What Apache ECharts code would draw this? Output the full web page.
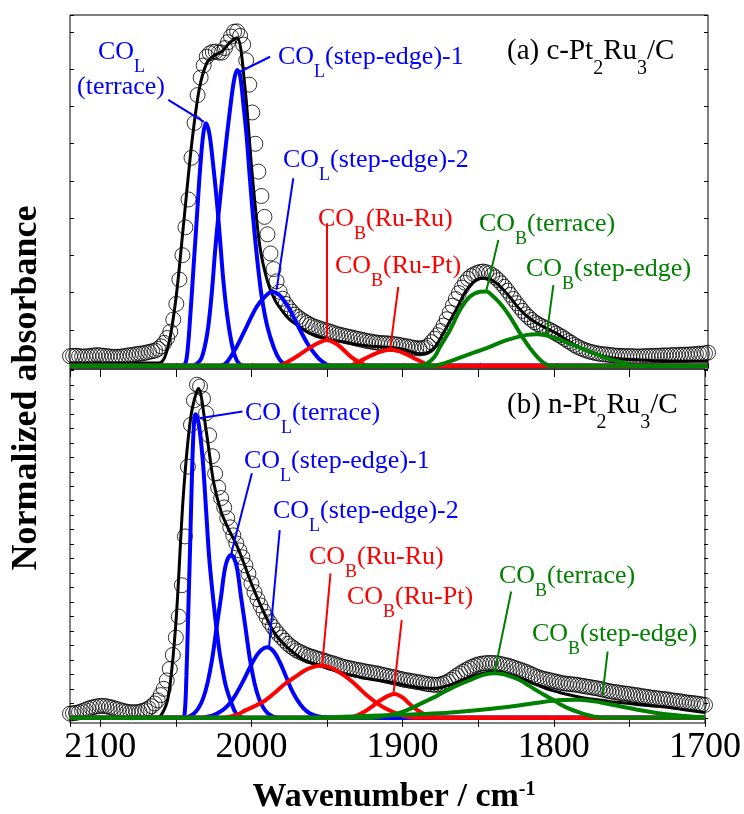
<!DOCTYPE html>
<html>
<head>
<meta charset="utf-8">
<script src="https://cdn.jsdelivr.net/npm/echarts@6/dist/echarts.min.js"></script>
<style>
html, body { margin: 0; padding: 0; background: #fff; }
#chart { width: 744px; height: 814px; }
</style>
</head>
<body>
<div id="chart"></div>
<script>
// measured spectra, wavenumber in cm-1
var wavenumbers = [
  2120,2118,2116,2114,2112,2110,2108,2106,2104,2102,
  2100,2098,2096,2094,2092,2090,2088,2086,2084,2082,
  2080,2078,2076,2074,2072,2070,2068,2066,2064,2062,
  2060,2058,2056,2054,2052,2050,2048,2046,2044,2042,
  2040,2038,2036,2034,2032,2030,2028,2026,2024,2022,
  2020,2018,2016,2014,2012,2010,2008,2006,2004,2002,
  2000,1998,1996,1994,1992,1990,1988,1986,1984,1982,
  1980,1978,1976,1974,1972,1970,1968,1966,1964,1962,
  1960,1958,1956,1954,1952,1950,1948,1946,1944,1942,
  1940,1938,1936,1934,1932,1930,1928,1926,1924,1922,
  1920,1918,1916,1914,1912,1910,1908,1906,1904,1902,
  1900,1898,1896,1894,1892,1890,1888,1886,1884,1882,
  1880,1878,1876,1874,1872,1870,1868,1866,1864,1862,
  1860,1858,1856,1854,1852,1850,1848,1846,1844,1842,
  1840,1838,1836,1834,1832,1830,1828,1826,1824,1822,
  1820,1818,1816,1814,1812,1810,1808,1806,1804,1802,
  1800,1798,1796,1794,1792,1790,1788,1786,1784,1782,
  1780,1778,1776,1774,1772,1770,1768,1766,1764,1762,
  1760,1758,1756,1754,1752,1750,1748,1746,1744,1742,
  1740,1738,1736,1734,1732,1730,1728,1726,1724,1722,
  1720,1718,1716,1714,1712,1710,1708,1706,1704,1702,
  1700
];
// (a) c-Pt2Ru3/C
var spectrumA = [
  0.020,0.021,0.021,0.020,0.019,0.019,0.020,0.021,0.022,0.023,
  0.022,0.021,0.020,0.019,0.018,0.018,0.018,0.019,0.020,0.022,
  0.023,0.024,0.026,0.027,0.028,0.030,0.032,0.034,0.036,0.041,
  0.048,0.058,0.072,0.090,0.125,0.170,0.240,0.310,0.390,0.470,
  0.590,0.690,0.770,0.820,0.855,0.880,0.890,0.894,0.895,0.892,
  0.892,0.905,0.922,0.938,0.952,0.953,0.940,0.915,0.870,0.800,
  0.720,0.630,0.550,0.480,0.420,0.370,0.315,0.270,0.235,0.205,
  0.185,0.170,0.158,0.148,0.139,0.132,0.126,0.120,0.115,0.110,
  0.106,0.103,0.100,0.097,0.094,0.092,0.089,0.086,0.083,0.081,
  0.079,0.077,0.075,0.073,0.071,0.069,0.067,0.065,0.063,0.062,
  0.060,0.059,0.058,0.057,0.057,0.056,0.055,0.054,0.053,0.051,
  0.049,0.048,0.046,0.044,0.043,0.042,0.043,0.045,0.050,0.060,
  0.070,0.080,0.092,0.108,0.126,0.145,0.165,0.184,0.201,0.217,
  0.231,0.242,0.250,0.255,0.259,0.262,0.263,0.261,0.258,0.253,
  0.246,0.238,0.229,0.219,0.208,0.196,0.184,0.172,0.161,0.150,
  0.140,0.132,0.124,0.117,0.112,0.107,0.103,0.099,0.095,0.090,
  0.085,0.080,0.075,0.069,0.063,0.058,0.052,0.047,0.043,0.039,
  0.036,0.033,0.031,0.029,0.027,0.026,0.025,0.024,0.023,0.022,
  0.021,0.021,0.020,0.020,0.020,0.020,0.019,0.019,0.019,0.020,
  0.020,0.020,0.021,0.021,0.021,0.022,0.022,0.022,0.023,0.023,
  0.023,0.024,0.024,0.024,0.025,0.025,0.026,0.027,0.027,0.028,
  0.030
];
// (b) n-Pt2Ru3/C
var spectrumB = [
  0.012,0.013,0.014,0.016,0.019,0.022,0.026,0.029,0.031,0.033,
  0.034,0.034,0.033,0.031,0.029,0.026,0.024,0.021,0.019,0.017,
  0.016,0.016,0.016,0.017,0.020,0.022,0.027,0.033,0.041,0.050,
  0.065,0.083,0.107,0.140,0.180,0.230,0.290,0.380,0.520,0.720,
  0.840,0.910,0.955,0.950,0.915,0.873,0.810,0.750,0.700,0.660,
  0.630,0.603,0.572,0.546,0.523,0.500,0.480,0.460,0.437,0.413,
  0.385,0.360,0.340,0.322,0.305,0.289,0.274,0.261,0.250,0.239,
  0.230,0.221,0.212,0.205,0.199,0.193,0.189,0.185,0.181,0.177,
  0.175,0.172,0.169,0.167,0.164,0.161,0.158,0.156,0.153,0.150,
  0.147,0.145,0.143,0.141,0.139,0.137,0.136,0.134,0.132,0.131,
  0.129,0.128,0.126,0.124,0.122,0.120,0.118,0.116,0.114,0.112,
  0.110,0.108,0.107,0.105,0.104,0.102,0.101,0.099,0.097,0.096,
  0.095,0.094,0.095,0.097,0.100,0.104,0.109,0.115,0.121,0.127,
  0.132,0.137,0.142,0.146,0.150,0.153,0.155,0.156,0.157,0.157,
  0.157,0.156,0.155,0.153,0.151,0.149,0.146,0.143,0.140,0.137,
  0.134,0.131,0.127,0.123,0.119,0.116,0.113,0.111,0.109,0.107,
  0.105,0.103,0.101,0.099,0.098,0.097,0.096,0.095,0.094,0.092,
  0.091,0.089,0.088,0.086,0.085,0.083,0.081,0.079,0.077,0.075,
  0.074,0.073,0.071,0.070,0.069,0.068,0.066,0.065,0.064,0.062,
  0.061,0.060,0.058,0.057,0.056,0.055,0.054,0.053,0.052,0.050,
  0.049,0.048,0.047,0.045,0.044,0.043,0.042,0.041,0.040,0.038,
  0.037
];

// fitted sum
var fitGrid = [
  2120,2115,2110,2105,2100,2095,2090,2085,2080,2075,
  2070,2065,2060,2055,2050,2045,2040,2035,2030,2025,
  2020,2015,2010,2005,2000,1995,1990,1985,1980,1975,
  1970,1965,1960,1955,1950,1945,1940,1935,1930,1925,
  1920,1915,1910,1905,1900,1895,1890,1885,1880,1875,
  1870,1865,1860,1855,1850,1845,1840,1835,1830,1825,
  1820,1815,1810,1805,1800,1795,1790,1785,1780,1775,
  1770,1765,1760,1755,1750,1745,1740,1735,1730,1725,
  1720,1715,1710,1705,1700
];
var fitA = [
  0,0,0,0,0,0,0,0,0,0,
  0,0,0.002,0.055,0.195,0.41,0.625,0.785,0.862,0.884,
  0.895,0.92,0.935,0.8,0.54,0.335,0.235,0.18,0.148,0.123,
  0.108,0.092,0.081,0.073,0.067,0.064,0.061,0.057,0.053,0.05,
  0.048,0.046,0.045,0.043,0.039,0.032,0.027,0.029,0.045,0.08,
  0.12,0.16,0.203,0.23,0.243,0.243,0.232,0.212,0.187,0.16,
  0.138,0.121,0.108,0.097,0.086,0.072,0.058,0.046,0.036,0.028,
  0.021,0.016,0.013,0.011,0.01,0.009,0.008,0.007,0.007,0.006,
  0.006,0.005,0.005,0.005,0.005
];
var fitB = [
  0,0,0,0,0,0,0,0,0,0,
  0,0,0.006,0.06,0.27,0.64,0.865,0.945,0.825,0.675,
  0.59,0.54,0.497,0.443,0.385,0.333,0.286,0.245,0.218,0.197,
  0.18,0.165,0.157,0.151,0.144,0.136,0.128,0.123,0.118,0.113,
  0.11,0.107,0.104,0.1,0.095,0.091,0.087,0.085,0.084,0.086,
  0.092,0.1,0.109,0.117,0.124,0.129,0.132,0.131,0.126,0.119,
  0.11,0.101,0.092,0.084,0.077,0.071,0.066,0.061,0.057,0.054,
  0.051,0.048,0.045,0.043,0.041,0.038,0.036,0.034,0.032,0.03,
  0.027,0.024,0.021,0.018,0.015
];

// fitted components, [wavenumber, absorbance]
var coLTerraceA = [[2120,-0.008],[2047,-0.008],[2044.5,-0.004],[2043,0.02],[2041,0.124],[2038.8,0.267],[2036.6,0.411],[2034.4,0.555],[2032.2,0.66],[2030.5,0.689],[2028.3,0.66],[2026.1,0.583],[2023.4,0.469],[2021.2,0.354],[2019.1,0.239],[2016.4,0.133],[2013.6,0.057],[2011.2,0.018],[2009,0],[2006,-0.008],[1700,-0.008]];
var coLStep1A = [[2120,-0.008],[2040,-0.008],[2036.6,-0.002],[2033.4,0.014],[2029.6,0.086],[2026.7,0.2],[2024.6,0.315],[2022.4,0.42],[2018,0.603],[2014.7,0.727],[2012,0.813],[2009.9,0.842],[2008.1,0.828],[2005.9,0.746],[2003.7,0.65],[2001.5,0.526],[1999.3,0.411],[1996.7,0.296],[1993.8,0.191],[1990.1,0.105],[1985.7,0.043],[1982,0.01],[1978,-0.005],[1975,-0.008],[1700,-0.008]];
var coLStep2A = [[2120,-0.008],[2021,-0.008],[2016.8,0.002],[2010.3,0.047],[2003.7,0.105],[1997.1,0.162],[1991.6,0.191],[1987,0.205],[1982,0.195],[1978,0.172],[1975.2,0.153],[1969.7,0.105],[1963.1,0.052],[1958,0.022],[1955,0.008],[1951,-0.004],[1947,-0.008],[1700,-0.008]];
var coBRuRuA = [[2120,-0.008],[1983,-0.008],[1979.6,-0.003],[1975,0.008],[1970,0.021],[1965,0.036],[1960,0.05],[1955,0.061],[1951,0.066],[1947,0.061],[1943,0.05],[1939,0.034],[1935,0.018],[1931,0.006],[1927,-0.003],[1923,-0.008],[1700,-0.008]];
var coBRuPtA = [[2120,-0.008],[1937,-0.008],[1933.5,-0.004],[1928,0.008],[1922,0.021],[1916,0.032],[1910,0.038],[1904,0.035],[1898,0.024],[1892,0.011],[1887.4,0.001],[1882,-0.008],[1700,-0.008]];
var coBTerraceA = [[2120,-0.008],[1890,-0.008],[1885.2,-0.002],[1880,0.018],[1876.4,0.047],[1869.8,0.095],[1863.2,0.153],[1856.7,0.191],[1850.1,0.205],[1846,0.206],[1843.5,0.2],[1836.9,0.172],[1830.3,0.133],[1823.8,0.086],[1817.2,0.043],[1812,0.016],[1808,0],[1804,-0.008],[1700,-0.008]];
var coBStepA = [[2120,-0.008],[1882,-0.008],[1872,0.002],[1858.8,0.023],[1845.7,0.043],[1832.5,0.066],[1819.3,0.081],[1812.8,0.083],[1806,0.079],[1799.6,0.071],[1788.7,0.052],[1777.7,0.033],[1766.7,0.014],[1755.7,0.001],[1748,-0.008],[1700,-0.008]];

var coLTerraceB = [[2120,0],[2046,0],[2044.3,0.006],[2043,0.12],[2042,0.27],[2040.5,0.5],[2039.3,0.7],[2038.3,0.82],[2037.1,0.87],[2035.8,0.86],[2034.4,0.83],[2032.2,0.739],[2030,0.596],[2027.8,0.452],[2024.5,0.309],[2021.3,0.194],[2019,0.135],[2016.8,0.089],[2013.5,0.045],[2010.3,0.013],[2007,0.002],[2004,0],[1700,0]];
var coLStep1B = [[2120,0],[2045,0],[2041,0.004],[2038,0.012],[2035,0.028],[2032,0.055],[2029,0.1],[2026,0.168],[2023,0.26],[2020,0.35],[2017,0.438],[2013.5,0.467],[2010,0.438],[2007,0.35],[2004,0.26],[2001,0.168],[1998,0.1],[1995,0.055],[1992,0.028],[1989,0.012],[1986,0.004],[1982,0],[1700,0]];
var coLStep2B = [[2120,0],[2033,0],[2029.5,0.003],[2025.5,0.007],[2021.5,0.015],[2017.5,0.027],[2013.5,0.046],[2009.5,0.073],[2005.5,0.105],[2001.5,0.14],[1997.5,0.172],[1993.5,0.194],[1989.5,0.202],[1985.5,0.191],[1981.5,0.162],[1977.5,0.122],[1973.5,0.081],[1969.5,0.05],[1965.5,0.027],[1961.5,0.013],[1957.5,0.006],[1953.5,0.002],[1949,0],[1700,0]];
var coBRuRuB = [[2120,0],[2020,0],[2010,0.008],[2003.7,0.022],[1997,0.035],[1990.5,0.051],[1984,0.074],[1977.3,0.099],[1970,0.12],[1964.2,0.137],[1959,0.146],[1954.3,0.149],[1949,0.146],[1944.4,0.137],[1939,0.122],[1933.5,0.104],[1928,0.082],[1922.5,0.06],[1917,0.042],[1911.5,0.027],[1905,0.014],[1898.3,0.004],[1892,0],[1700,0]];
var coBRuPtB = [[2120,0],[1937,0],[1930,0.007],[1925,0.018],[1920,0.033],[1915,0.049],[1910,0.062],[1905.5,0.068],[1900,0.058],[1895,0.038],[1890,0.021],[1885,0.009],[1880,0.002],[1875,0],[1700,0]];
var coBTerraceB = [[2120,0],[1922,0],[1912,0.005],[1902.8,0.013],[1896,0.024],[1889.6,0.037],[1883,0.051],[1876.4,0.065],[1870,0.08],[1863.2,0.094],[1856,0.107],[1850.1,0.118],[1845,0.125],[1839.1,0.128],[1833,0.125],[1828.2,0.118],[1822,0.107],[1817.2,0.094],[1812,0.08],[1806.2,0.065],[1800,0.05],[1795.2,0.037],[1790,0.026],[1784.3,0.017],[1778,0.008],[1773.3,0.003],[1766,0],[1700,0]];
var coBStepB = [[2120,0],[1965,0],[1930,0.004],[1900,0.009],[1872,0.014],[1850.1,0.022],[1828.2,0.032],[1806.2,0.046],[1795.2,0.051],[1784.3,0.052],[1773.3,0.047],[1762.3,0.038],[1744.8,0.023],[1727.2,0.011],[1709.7,0.004],[1700,0.002]];

var xTickLabels = [2100, 2000, 1900, 1800, 1700];

var SERIF = '"Liberation Serif", "Times New Roman", serif';
var BLUE = '#0000ff', RED = '#ff0000', GREEN = '#008000';

// leader lines: [from wavenumber, from value, to wavenumber, to value, colour]
var leadersA = [
  [2055.3, 0.756, 2031.8, 0.693, BLUE],
  [1988.3, 0.880, 2008.1, 0.837, BLUE],
  [1973.0, 0.531, 1984.0, 0.211, BLUE],
  [1951.0, 0.402, 1951.0, 0.066, RED],
  [1903.9, 0.219, 1909.3, 0.038, RED],
  [1838.0, 0.354, 1845.8, 0.210, GREEN],
  [1801.8, 0.224, 1806.2, 0.081, GREEN]
];
var leadersB = [
  [2005.9, 0.878, 2034.4, 0.859, BLUE],
  [1999.7, 0.701, 2013.6, 0.467, BLUE],
  [1981.3, 0.538, 1988.3, 0.204, BLUE],
  [1947.7, 0.414, 1953.2, 0.151, RED],
  [1900.6, 0.280, 1906.0, 0.070, RED],
  [1828.2, 0.362, 1839.1, 0.132, GREEN],
  [1764.4, 0.190, 1767.8, 0.065, GREEN]
];

// text labels: [left x, baseline y, rich text, colour, font size]
var labels = [
  [98, 63, '{m|CO}{s|L}', BLUE, 26],
  [77, 98, '{m|(terrace)}', BLUE, 26],
  [278, 68, '{m|CO}{s|L}{m|(step-edge)-1}', BLUE, 26],
  [283, 171, '{m|CO}{s|L}{m|(step-edge)-2}', BLUE, 26],
  [318, 230, '{m|CO}{s|B}{m|(Ru-Ru)}', RED, 26],
  [335, 277, '{m|CO}{s|B}{m|(Ru-Pt)}', RED, 26],
  [479, 235, '{m|CO}{s|B}{m|(terrace)}', GREEN, 26],
  [526, 280, '{m|CO}{s|B}{m|(step-edge)}', GREEN, 26],
  [507, 63, '{m|(a) c-Pt}{s|2}{m|Ru}{s|3}{m|/C}', '#000', 29],
  [245, 424, '{m|CO}{s|L}{m|(terrace)}', BLUE, 26],
  [244, 472, '{m|CO}{s|L}{m|(step-edge)-1}', BLUE, 26],
  [273, 522, '{m|CO}{s|L}{m|(step-edge)-2}', BLUE, 26],
  [309, 568, '{m|CO}{s|B}{m|(Ru-Ru)}', RED, 26],
  [347, 608, '{m|CO}{s|B}{m|(Ru-Pt)}', RED, 26],
  [499, 587, '{m|CO}{s|B}{m|(terrace)}', GREEN, 26],
  [532, 645, '{m|CO}{s|B}{m|(step-edge)}', GREEN, 26],
  [507, 417, '{m|(b) n-Pt}{s|2}{m|Ru}{s|3}{m|/C}', '#000', 29]
];

function zipSpectrum(xs, ys) {
  return xs.map(function (x, i) { return [x, ys[i]]; });
}

function leaderData(list) {
  return list.map(function (l) {
    return [{coord: [l[0], l[1]], lineStyle: {color: l[4]}}, {coord: [l[2], l[3]]}];
  });
}

function curve(pts, color, xi, yi) {
  return {
    type: 'line', xAxisIndex: xi, yAxisIndex: yi, data: pts,
    showSymbol: false, symbol: 'none', smooth: 0.35, z: 4,
    lineStyle: {color: color, width: 4}
  };
}

function panelSeries(spec, fit, comps, leaders, xi, yi) {
  var s = [];
  s.push({
    type: 'scatter', xAxisIndex: xi, yAxisIndex: yi,
    data: zipSpectrum(wavenumbers, spec),
    symbol: 'circle', symbolSize: 15, z: 2,
    itemStyle: {color: 'rgba(0,0,0,0)', borderColor: '#000', borderWidth: 1}
  });
  s.push({
    type: 'line', xAxisIndex: xi, yAxisIndex: yi,
    data: zipSpectrum(fitGrid, fit),
    showSymbol: false, symbol: 'none', smooth: 0.3, z: 3,
    lineStyle: {color: '#000', width: 3},
    markLine: {
      silent: true, symbol: ['none', 'none'], label: {show: false},
      lineStyle: {width: 2, type: 'solid'},
      data: leaderData(leaders)
    }
  });
  comps.forEach(function (c) { s.push(curve(c[0], c[1], xi, yi)); });
  return s;
}

// main text plus a subscript dropped about 12px below the baseline
function richStyle(color, size) {
  var sub = Math.round(size * 0.69);
  return {
    m: {fontFamily: SERIF, fontSize: size, lineHeight: size + 4, verticalAlign: 'top', fill: color},
    s: {fontFamily: SERIF, fontSize: sub, lineHeight: sub, padding: [size - 7, 0, 0, 0], verticalAlign: 'top', fill: color}
  };
}

var graphics = labels.map(function (l) {
  var size = l[4];
  return {
    type: 'text', x: l[0], y: l[1] - (size + 4) / 2 - size * 0.33, z: 100,
    style: {text: l[2], rich: richStyle(l[3], size), fill: l[3], align: 'left', verticalAlign: 'top'}
  };
});
graphics.push({
  type: 'text', x: 394, y: 780, z: 100,
  style: {
    text: '{m|Wavenumber / cm}{p|-1}', align: 'center', verticalAlign: 'top',
    rich: {
      m: {fontFamily: SERIF, fontSize: 34, fontWeight: 'bold', lineHeight: 40, verticalAlign: 'top', fill: '#000'},
      p: {fontFamily: SERIF, fontSize: 20, fontWeight: 'bold', lineHeight: 20, verticalAlign: 'top', fill: '#000'}
    }
  }
});
graphics.push({
  type: 'text', x: 27, y: 388, rotation: Math.PI / 2, z: 100,
  style: {
    text: 'Normalized absorbance', fill: '#000', align: 'center', verticalAlign: 'middle',
    font: 'bold 36px ' + SERIF
  }
});

var chart = echarts.init(document.getElementById('chart'));

var tickStyle = {color: '#000', width: 1};
function xTickAxis(grid, pos, inside, len, labels) {
  return {
    gridIndex: grid, type: 'value', min: 1700, max: 2120, interval: 50, inverse: true,
    position: pos, axisLine: {show: false},
    axisTick: {show: true, inside: inside, length: len, lineStyle: tickStyle},
    axisLabel: labels ? {
      show: true, fontSize: 36, fontFamily: SERIF, color: '#000', margin: 7,
      formatter: function (v) { return xTickLabels.indexOf(v) >= 0 ? String(v) : ''; }
    } : {show: false},
    splitLine: {show: false}
  };
}
function yTickAxis(grid, pos, max) {
  return {
    gridIndex: grid, type: 'value', min: 0, max: max, interval: 1, position: pos,
    axisLine: {show: false},
    axisTick: {show: true, inside: true, length: 4, lineStyle: tickStyle},
    axisLabel: {show: false}, splitLine: {show: false}
  };
}

option = {
  animation: false,
  backgroundColor: '#fff',
  grid: [
    {left: 70, top: 15, width: 638, height: 354, show: true, borderColor: '#000', borderWidth: 1, backgroundColor: 'transparent'},
    {left: 70, top: 369, width: 638, height: 354, show: true, borderColor: '#000', borderWidth: 1, backgroundColor: 'transparent'},
    {left: 70, top: 15, width: 638, height: 352},
    {left: 70, top: 369, width: 638, height: 348.8}
  ],
  xAxis: [
    xTickAxis(0, 'top', true, 5, false),
    xTickAxis(1, 'bottom', false, 9, true),
    xTickAxis(1, 'top', true, 8, false),
    {gridIndex: 2, type: 'value', min: 1700, max: 2120, show: false},
    {gridIndex: 3, type: 'value', min: 1700, max: 2120, show: false}
  ],
  yAxis: [
    {gridIndex: 0, type: 'value', min: -0.017, max: 1, show: false},
    {gridIndex: 1, type: 'value', min: -0.015, max: 1, show: false},
    yTickAxis(2, 'left', 9.46),
    yTickAxis(2, 'right', 9.46),
    yTickAxis(3, 'left', 24.1),
    yTickAxis(3, 'right', 24.1)
  ],
  graphic: graphics,
  series: [].concat(
    panelSeries(spectrumA, fitA, [
      [coLTerraceA, BLUE], [coLStep1A, BLUE], [coLStep2A, BLUE],
      [coBRuRuA, RED], [coBRuPtA, RED],
      [coBTerraceA, GREEN], [coBStepA, GREEN]
    ], leadersA, 0, 0),
    panelSeries(spectrumB, fitB, [
      [coLTerraceB, BLUE], [coLStep1B, BLUE], [coLStep2B, BLUE],
      [coBRuRuB, RED], [coBRuPtB, RED],
      [coBTerraceB, GREEN], [coBStepB, GREEN]
    ], leadersB, 1, 1)
  )
};
chart.setOption(option);
</script>
</body>
</html>
